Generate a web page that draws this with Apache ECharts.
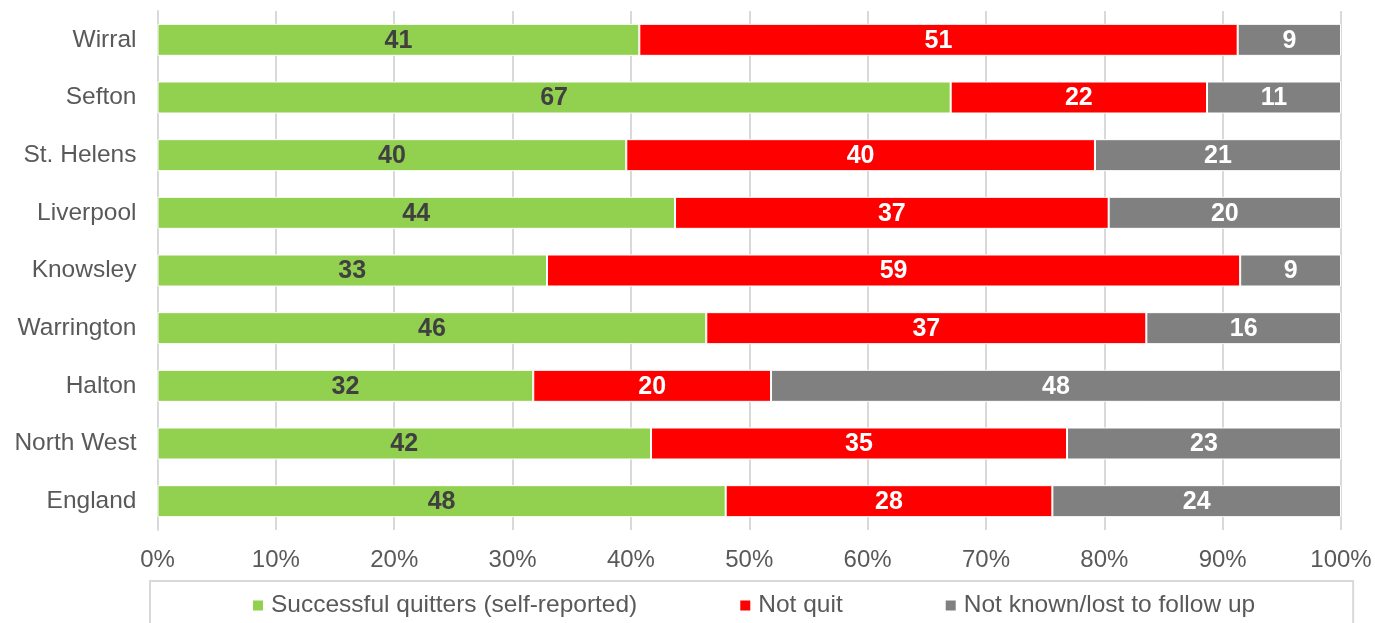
<!DOCTYPE html>
<html>
<head>
<meta charset="utf-8">
<script src="https://cdn.jsdelivr.net/npm/echarts@6/dist/echarts.min.js"></script>
<style>
  html, body { margin: 0; padding: 0; background: #fff; }
  #chart { width: 1375px; height: 623px; }
</style>
</head>
<body>
<div id="chart"></div>
<script>
// Areas, listed top to bottom
const areas = ['Wirral', 'Sefton', 'St. Helens', 'Liverpool', 'Knowsley', 'Warrington', 'Halton', 'North West', 'England'];

// Outcome shares (% of people setting a quit date)
const quitters = [40.71, 67.02, 39.61, 43.73, 32.91, 46.37, 31.75, 41.70, 48.01];
const notQuit  = [50.56, 21.66, 39.60, 36.64, 58.57, 37.18, 20.09, 35.15, 27.60];
const notKnown = [8.73, 11.32, 20.79, 19.63, 8.52, 16.45, 48.16, 23.15, 24.39];

const seriesNames = ['Successful quitters (self-reported)', 'Not quit', 'Not known/lost to follow up'];
const tickValues = [0, 10, 20, 30, 40, 50, 60, 70, 80, 90, 100];

const FONT = '"Liberation Sans", Arial, sans-serif';

function barSeries(name, data, color, labelColor) {
  return {
    name: name,
    type: 'bar',
    stack: 'total',
    data: data,
    barWidth: 32,
    itemStyle: { color: color, borderColor: '#ffffff', borderWidth: 1 },
    label: {
      show: true,
      position: 'inside',
      offset: [0, 1],
      color: labelColor,
      fontFamily: FONT,
      fontSize: 25,
      fontWeight: 'bold',
      formatter: p => String(Math.round(p.value))
    },
    emphasis: { disabled: true }
  };
}

const chart = echarts.init(document.getElementById('chart'), null, { renderer: 'canvas' });
chart.setOption({
  animation: false,
  backgroundColor: '#ffffff',
  textStyle: { fontFamily: FONT },
  grid: { left: 157.5, right: 34, top: 11, bottom: 93, containLabel: false },
  xAxis: {
    type: 'value',
    min: tickValues[0],
    max: tickValues[tickValues.length - 1],
    interval: 10,
    axisLine: { show: false },
    axisTick: { show: false },
    splitLine: { show: true, lineStyle: { color: '#d9d9d9', width: 2 } },
    axisLabel: {
      color: '#595959',
      fontFamily: FONT,
      fontSize: 24,
      margin: 18,
      formatter: v => v + '%'
    }
  },
  yAxis: {
    type: 'category',
    data: areas,
    inverse: true,
    axisLine: { show: true, lineStyle: { color: '#d9d9d9', width: 2 } },
    axisTick: { show: false },
    axisLabel: { color: '#595959', fontFamily: FONT, fontSize: 24.5, margin: 21, padding: [3, 0, 0, 0] }
  },
  legend: {
    left: 150,
    top: 581,
    orient: 'horizontal',
    data: seriesNames,
    icon: 'rect',
    itemWidth: 10,
    itemHeight: 10,
    itemGap: 103,
    itemStyle: { borderWidth: 0 },
    padding: [12, 98, 40, 103],
    borderColor: '#d9d9d9',
    borderWidth: 2,
    textStyle: { color: '#595959', fontFamily: FONT, fontSize: 24.5, padding: [0, 0, 0, 3] },
    selectedMode: false
  },
  series: [
    barSeries(seriesNames[0], quitters, '#92d050', '#404040'),
    barSeries(seriesNames[1], notQuit, '#ff0000', '#ffffff'),
    barSeries(seriesNames[2], notKnown, '#808080', '#ffffff')
  ]
});
</script>
</body>
</html>
